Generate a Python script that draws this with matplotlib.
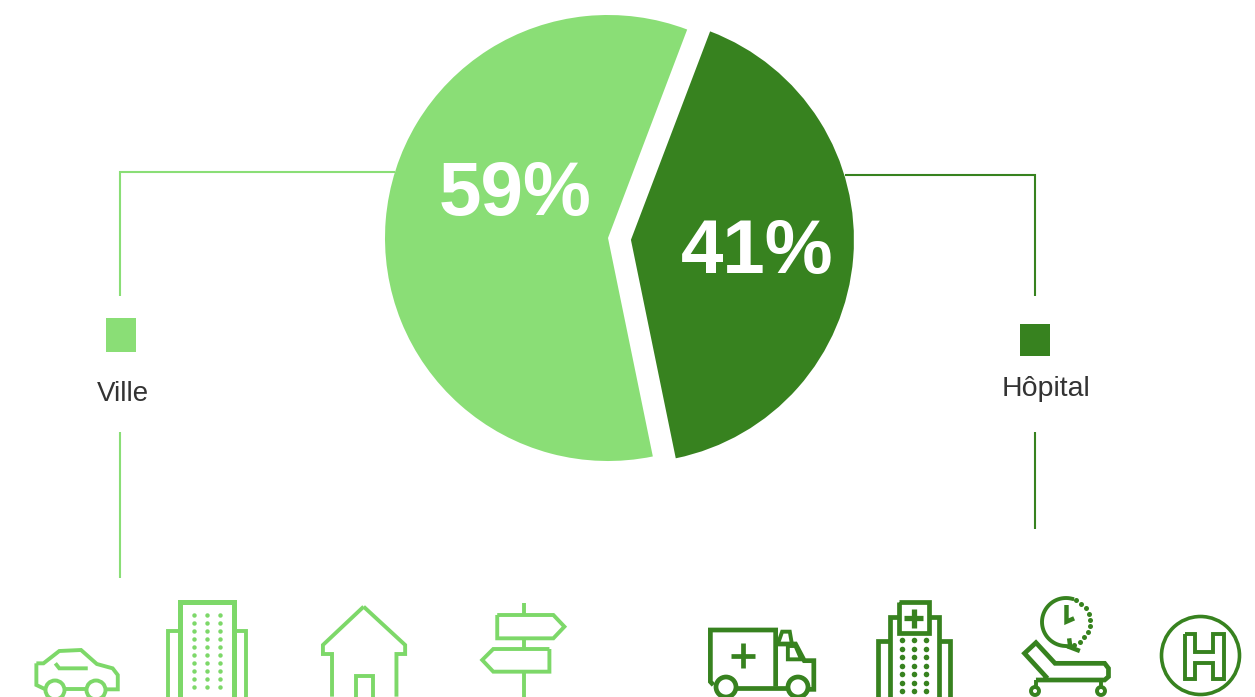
import numpy as np
import matplotlib
matplotlib.use('Agg')
import matplotlib.pyplot as plt
from matplotlib.patches import Circle, Rectangle

plt.rcParams['font.family'] = ['Liberation Sans', 'DejaVu Sans']

# Data
labels = ['Ville', 'Hôpital']
shares = [59, 41]
pct_labels = ['59%', '41%']

LIGHT = '#8ADE76'
DARK = '#37821F'
ICON_LIGHT = '#7DD869'
W, H = 1255, 697

fig = plt.figure(figsize=(W / 100, H / 100), dpi=100)
ax = fig.add_axes([0, 0, 1, 1])

# pie, the hospital slice is pulled out a bit (explode is in data units here)
ax.pie(shares, colors=[LIGHT, DARK], explode=[0, 23], radius=223,
       center=(608, H - 238), startangle=69.2, counterclock=True)
ax.set_xlim(0, W)
ax.set_ylim(0, H)
ax.axis('off')


def line(pts, col, lw=1.5):
    xs = [p[0] for p in pts]
    ys = [H - p[1] for p in pts]
    ax.plot(xs, ys, color=col, lw=lw, solid_joinstyle='miter', solid_capstyle='butt', clip_on=True)


# connectors and legend squares
line([(395, 172), (120, 172), (120, 296)], LIGHT)
line([(120, 432), (120, 578)], LIGHT)
line([(845, 175), (1035, 175), (1035, 296)], DARK)
line([(1035, 432), (1035, 529)], DARK)
ax.add_patch(Rectangle((106, H - 352), 30, 34, color=LIGHT, lw=0))
ax.add_patch(Rectangle((1020, H - 356), 30, 32, color=DARK, lw=0))

ax.text(515, H - 195, pct_labels[0], color='white', fontsize=55, fontweight='bold', ha='center', va='center')
ax.text(757, H - 253, pct_labels[1], color='white', fontsize=55, fontweight='bold', ha='center', va='center')
ax.text(123, H - 394, labels[0], color='#333333', fontsize=20, ha='center', va='center')
ax.text(1045.5, H - 389, labels[1], color='#333333', fontsize=20.5, ha='center', va='center')


def left_pts(pts):
    return [(x / 2.53, 570 + y / 3) for x, y in pts]


def right_pts(pts):
    return [(660 + x / 2.62, 570 + y / 3) for x, y in pts]


def ring(cx, cy, r, col, lw=2.8):
    ax.add_patch(Circle((cx, H - cy), r, fill=False, ec=col, lw=lw))


def dots(xs, ys, col, size=3.2):
    gx, gy = np.meshgrid(xs, ys)
    ax.plot(gx.ravel(), H - gy.ravel(), ls='', marker='o', ms=size, color=col, mew=0)


c = ICON_LIGHT
# car
line(left_pts([(92, 280), (110, 280), (150, 243), (205, 240), (245, 282), (285, 295), (298, 315), (298, 358), (268, 358)]), c, 2.8)
line(left_pts([(92, 280), (92, 345), (115, 358)]), c, 2.8)
line(left_pts([(165, 358), (218, 358)]), c, 2.8)
line(left_pts([(140, 280), (150, 295), (222, 295)]), c, 2.8)
ring(55, 690, 9.5, c)
ring(96, 690, 9.5, c)
# tower
line(left_pts([(455, 380), (455, 97), (592, 97), (592, 380)]), c, 3.6)
line(left_pts([(455, 182), (425, 182), (425, 380)]), c, 2.8)
line(left_pts([(592, 182), (622, 182), (622, 380)]), c, 2.8)
dots([193.5, 206.5, 219.5], np.arange(615, 690, 8), c)
# house
line(left_pts([(920, 110), (1025, 225), (1025, 252), (1003, 252), (1003, 380)]), c, 2.8)
line(left_pts([(920, 110), (817, 225), (817, 252), (840, 252), (840, 380)]), c, 2.8)
line(left_pts([(900, 380), (900, 317), (943, 317), (943, 380)]), c, 2.8)
# signpost
line(left_pts([(1325, 100), (1325, 135)]), c, 2.8)
line(left_pts([(1325, 208), (1325, 237)]), c, 2.8)
line(left_pts([(1325, 308), (1325, 380)]), c, 2.8)
line(left_pts([(1258, 135), (1400, 135), (1428, 170), (1400, 205), (1258, 205), (1258, 135)]), c, 2.8)
line(left_pts([(1390, 237), (1248, 237), (1220, 270), (1248, 305), (1390, 305), (1390, 237)]), c, 2.8)

c = DARK
# ambulance
line(right_pts([(140, 345), (132, 335), (132, 180), (303, 180), (303, 350)]), c, 3.4)
line(right_pts([(200, 353), (335, 353)]), c, 3.4)
line(right_pts([(218, 220), (218, 295)]), c, 3.4)
line(right_pts([(185, 257), (250, 257)]), c, 3.4)
line(right_pts([(303, 222), (355, 222), (378, 272), (403, 272), (403, 358), (390, 358)]), c, 3.4)
line(right_pts([(335, 228), (355, 228), (370, 268), (335, 268), (335, 228)]), c, 2.8)
line(right_pts([(310, 218), (320, 185), (340, 185), (345, 218)]), c, 2.8)
ring(726, 687, 10, c, 3.4)
ring(798, 687, 10, c, 3.4)
# hospital
line(right_pts([(627, 97), (705, 97), (705, 190), (627, 190), (627, 97)]), c, 3.4)
line(right_pts([(665, 118), (665, 175)]), c, 3.8)
line(right_pts([(640, 145), (690, 145)]), c, 3.8)
line(right_pts([(627, 142), (602, 142), (602, 380)]), c, 3.4)
line(right_pts([(705, 142), (732, 142), (732, 380)]), c, 3.4)
line(right_pts([(602, 212), (572, 212), (572, 380)]), c, 3.4)
line(right_pts([(732, 212), (760, 212), (760, 380)]), c, 3.4)
dots([901.5, 914, 926], np.arange(640, 695, 8.5), c, 4.0)
# bed and clock
clock_cx, clock_cy, clock_r = 1066, 622, 24
a = np.radians(np.linspace(75, 268, 40))
ax.plot(clock_cx + clock_r * np.cos(a), H - clock_cy + clock_r * np.sin(a), color=c, lw=2.8)
a = np.radians(np.arange(-85, 70, 15))
ax.plot(clock_cx + clock_r * np.cos(a), H - clock_cy + clock_r * np.sin(a), ls='', marker='o', ms=3.6, color=c, mew=0)
line(right_pts([(1065, 105), (1065, 155), (1085, 145)]), c, 3.2)
line(right_pts([(1072, 205), (1075, 232), (1100, 243)]), c, 3.2)
line(right_pts([(1015, 325), (955, 250), (985, 218), (1035, 280), (1165, 280), (1175, 295), (1175, 320), (1165, 330), (985, 330)]), c, 3.4)
line(right_pts([(985, 330), (985, 355)]), c, 2.8)
line(right_pts([(1155, 330), (1155, 355)]), c, 2.8)
ring(1035, 691, 4, c)
ring(1101, 691, 4, c)
# H sign
ring(1200.5, 655.5, 39, c, 2.6)
line(right_pts([(1375, 192), (1402, 192), (1402, 245), (1450, 245), (1450, 192), (1478, 192), (1478, 328), (1450, 328), (1450, 280), (1402, 280), (1402, 328), (1375, 328), (1375, 192)]), c, 2.8)

fig.savefig('out.png', dpi=100, facecolor='white')
